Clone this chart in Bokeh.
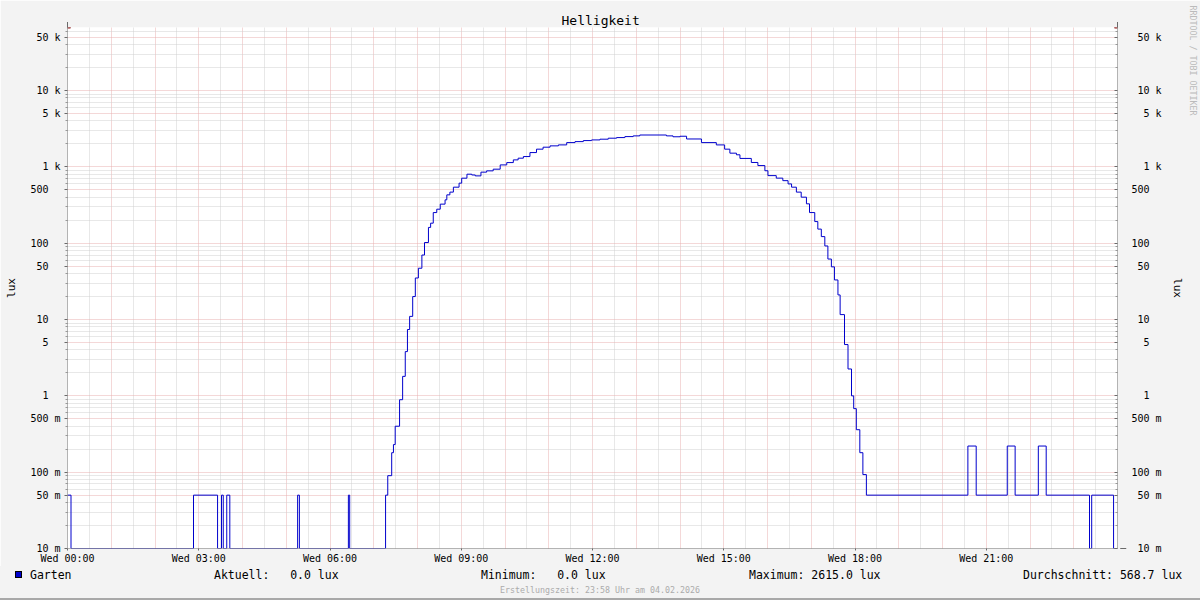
import math
from bokeh.plotting import figure
from bokeh.layouts import column
from bokeh.models import (Range1d, FixedTicker, LogAxis, Grid, Arrow, NormalHead, Title,
                          CustomJSTickFormatter, ColumnDataSource, Div)
from bokeh.embed import file_html
from bokeh.resources import INLINE

FONT = "DejaVu Sans Mono"
NB = "\u00a0"

# ---------------- data ----------------
title_text = "Helligkeit"
y_label = "lux"
series_name = "Garten"
footer_text = "Erstellungszeit: 23:58 Uhr am 04.02.2026"
watermark_text = "RRDTOOL / TOBI OETIKER"

hours = [0.00, 0.08, 2.88, 3.43, 3.52, 3.56, 3.64, 3.71, 5.26, 5.30, 6.42, 6.45,
         7.27, 7.32, 7.41, 7.45, 7.49, 7.59, 7.66, 7.72, 7.77, 7.82, 7.89, 7.95,
         8.02, 8.10, 8.16, 8.25, 8.30, 8.36, 8.44, 8.52, 8.63, 8.67, 8.74, 8.82,
         8.95, 9.01, 9.13, 9.24, 9.32, 9.45, 9.58, 9.73, 9.89, 10.04, 10.19, 10.30,
         10.42, 10.57, 10.72, 10.87, 11.03, 11.22, 11.41, 11.60, 11.79, 11.98, 12.17, 12.36,
         12.55, 12.74, 12.93, 13.08, 13.69, 13.84, 14.00,
         14.15, 14.49, 14.83, 15.02, 15.14, 15.29, 15.37, 15.63, 15.78, 15.94, 16.01, 16.20,
         16.35, 16.47, 16.55, 16.66, 16.77, 16.89, 16.96, 17.08, 17.15, 17.23, 17.31, 17.38,
         17.46, 17.53, 17.61, 17.66, 17.76, 17.84, 17.92, 17.97, 18.03, 18.11, 18.18, 18.26,
         20.58, 20.77, 21.48, 21.66, 22.19, 22.37, 23.36, 23.41, 23.91, 24.00]
lux = [0.05, 0, 0.05, 0, 0.05, 0, 0.05, 0, 0.05, 0, 0.05, 0,
       0.05, 0.09, 0.18, 0.23, 0.40, 0.89, 1.8, 3.8, 7.4, 11, 20, 35,
       47, 70, 102, 161, 183, 252, 279, 325, 370, 430, 467, 542,
       612, 711, 802, 783, 762, 853, 887, 933, 1061, 1138, 1235, 1300,
       1365, 1540, 1706, 1811, 1885, 1941, 2080, 2143, 2210, 2255, 2305, 2375,
       2420, 2493, 2547, 2615, 2547, 2480, 2520,
       2320, 2080, 1940, 1706, 1512, 1440, 1290, 1142, 1040, 890, 768, 712,
       660, 598, 542, 467, 401, 328, 252, 192, 153, 122, 92, 62,
       49, 33, 21, 11.6, 4.7, 2.25, 1.0, 0.68, 0.36, 0.18, 0.093, 0.05,
       0.22, 0.05, 0.22, 0.05, 0.22, 0.05, 0, 0.05, 0, 0]

x_tick_hours = [0, 3, 6, 9, 12, 15, 18, 21]
x_tick_labels = ["Wed 00:00", "Wed 03:00", "Wed 06:00", "Wed 09:00",
                 "Wed 12:00", "Wed 15:00", "Wed 18:00", "Wed 21:00"]
y_tick_values = [0.01, 0.05, 0.1, 0.5, 1, 5, 10, 50, 100, 500, 1000, 5000, 10000, 50000]
y_tick_labels = [" 10 m", " 50 m", "100 m", "500 m", "  1  ", "  5  ", " 10  ", " 50  ",
                 "100  ", "500  ", "  1 k", "  5 k", " 10 k", " 50 k"]
stat_names = ["Aktuell:", "Minimum:", "Maximum:", "Durchschnitt:"]
stat_values = [0.0, 0.0, 2615.0, 568.7]

# ---------------- main figure ----------------
BG = "#F3F3F3"
LINE = "#0000CC"
y_min, y_max = 0.01, 67000
x_min, x_max = 0, 24

p = figure(width=1200, height=566, x_range=Range1d(x_min, x_max), y_range=Range1d(y_min, y_max),
           y_axis_type="log", output_backend="svg", toolbar_location=None,
           min_border_left=67, min_border_right=82, min_border_top=27, min_border_bottom=17,
           background_fill_color="white", border_fill_color=BG, outline_line_color=None)
p.center = [r for r in p.center if not isinstance(r, Grid)]

decades = range(-2, 5)
y_major_grid = [m * 10.0 ** d for d in decades for m in (1, 5)]
y_minor_grid = [m * 10.0 ** d for d in decades for m in (2, 3, 4, 6, 7, 8, 9)]
x_major_grid = list(range(0, 25))
x_minor_grid = [h + 0.5 for h in range(0, 24)]

MAJ = "#E8B0B0"
MIN = "#D0D0D0"
p.add_layout(Grid(dimension=0, ticker=FixedTicker(ticks=x_major_grid, minor_ticks=x_minor_grid),
                  grid_line_color=MAJ, grid_line_dash="1 1",
                  minor_grid_line_color=MIN, minor_grid_line_dash="1 1"))
p.add_layout(Grid(dimension=1, ticker=FixedTicker(ticks=y_major_grid, minor_ticks=y_minor_grid),
                  grid_line_color=MAJ, grid_line_dash="1 1",
                  minor_grid_line_color=MIN, minor_grid_line_dash="1 1"))

fmt_code = """
const i = vals.findIndex(v => Math.abs(v - tick) <= 1e-9 * Math.max(1, Math.abs(v)));
return i >= 0 ? labs[i] : "";
"""
y_labels_nb = [s.replace(" ", NB) for s in y_tick_labels]
x_labels_nb = [s.replace(" ", NB) for s in x_tick_labels]

def style_y(ax, right=False):
    ax.ticker = FixedTicker(ticks=y_tick_values, minor_ticks=y_minor_grid)
    ax.formatter = CustomJSTickFormatter(args=dict(vals=y_tick_values, labs=y_labels_nb), code=fmt_code)
    ax.axis_line_color = None
    ax.major_tick_line_color = "#6A6A6A"
    ax.minor_tick_line_color = "#9A9A9A"
    if right:
        ax.major_tick_in, ax.major_tick_out = 3, 0
        ax.minor_tick_in, ax.minor_tick_out = 2, 0
        ax.major_label_standoff = 14
        ax.axis_label_standoff = 6
    else:
        ax.major_tick_in, ax.major_tick_out = 0, 3
        ax.minor_tick_in, ax.minor_tick_out = 0, 2
        ax.major_label_standoff = 4
        ax.axis_label_standoff = 9
    ax.major_label_text_font = FONT
    ax.major_label_text_font_size = "10px"
    ax.major_label_text_color = "black"
    ax.axis_label = y_label
    ax.axis_label_text_font = FONT
    ax.axis_label_text_font_size = "11px"
    ax.axis_label_text_font_style = "normal"
    ax.axis_label_text_color = "black"

style_y(p.yaxis[0])
right_axis = LogAxis()
style_y(right_axis, right=True)
p.add_layout(right_axis, "right")

xa = p.xaxis[0]
xa.ticker = FixedTicker(ticks=x_tick_hours, minor_ticks=[])
xa.formatter = CustomJSTickFormatter(args=dict(vals=x_tick_hours, labs=x_labels_nb), code=fmt_code)
xa.axis_line_color = None
xa.major_tick_line_color = "#6A6A6A"
xa.major_tick_in, xa.major_tick_out = 0, 2
xa.major_label_standoff = 2
xa.major_label_text_font = FONT
xa.major_label_text_font_size = "10px"
xa.major_label_text_color = "black"

AX = "#6A6A6A"
AR = "#8B1A1A"
for xs, ys, xe, ye in [(x_min, y_min, x_min, y_max * 1.18),
                       (x_max, y_min, x_max, y_max * 1.18),
                       (x_min, y_min, x_max + 0.2, y_min)]:
    p.add_layout(Arrow(end=NormalHead(size=6, fill_color=AR, line_color=AR),
                       x_start=xs, y_start=ys, x_end=xe, y_end=ye,
                       line_color=AX, line_width=1))

lux_plot = [max(v, y_min) for v in lux]
src = ColumnDataSource(dict(h=hours, v=lux_plot))
p.step(x="h", y="v", source=src, mode="after", line_color=LINE, line_width=1)

p.title.text = title_text
p.title.align = "left"
p.title.offset = 494
p.title.standoff = 0
p.title.text_font = FONT
p.title.text_font_style = "normal"
p.title.text_font_size = "13px"
p.title.text_color = "black"

p.add_layout(Title(text=watermark_text, align="left", offset=-22, standoff=2,
                   text_font=FONT, text_font_style="normal", text_font_size="8.3px",
                   text_color="#BBBBBB"), "right")

# ---------------- legend / statistics strip ----------------
H2 = 34
row_text = [series_name] + [nm + " " + ("%5.1f" % v) + " lux" for nm, v in zip(stat_names, stat_values)]
row_x = [30, 214, 481, 749, 1023]

parts = ['<div style="position:relative;width:1200px;height:%dpx;background:%s;'
         'font-family:\'%s\',monospace;color:#000;overflow:hidden;">' % (H2, BG, FONT)]
parts.append('<div style="position:absolute;left:15px;top:5px;width:7px;height:7px;'
             'background:%s;border:1px solid #000;"></div>' % LINE)
for t, x in zip(row_text, row_x):
    parts.append('<span style="position:absolute;left:%dpx;top:2px;font-size:11.5px;'
                 'line-height:14px;white-space:pre;">%s</span>' % (x, t))
parts.append('<span style="position:absolute;left:0;width:1200px;top:19px;text-align:center;'
             'font-size:8.3px;line-height:10px;color:#ABABAB;white-space:pre;">%s</span>' % footer_text)
parts.append('<div style="position:absolute;left:0;top:%dpx;width:1200px;height:2px;'
             'background:#A8A8A8;"></div>' % (H2 - 2))
parts.append('</div>')
strip = Div(text="".join(parts), width=1200, height=H2, margin=(0, 0, 0, 0))

layout = column(p, strip, spacing=0)
open("out.html", "w").write(file_html(layout, INLINE))
